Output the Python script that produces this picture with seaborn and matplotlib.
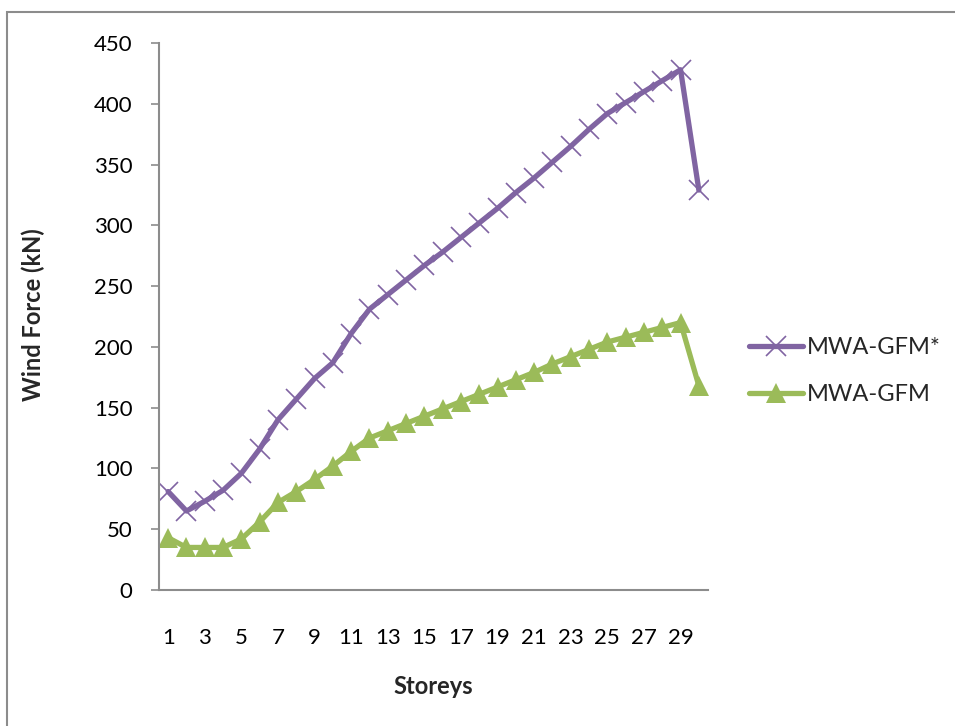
import matplotlib
matplotlib.use("Agg")
import matplotlib.pyplot as plt
import seaborn as sns
import pandas as pd
from matplotlib.patches import Rectangle

# Wind force per storey for the two gust factor methods
storeys = list(range(1, 31))
mwa_gfm_star = [81, 65, 73, 82, 96, 116, 140, 157, 174, 187,
                211, 231, 243, 255, 267, 278, 290, 302, 314, 327,
                339, 352, 365, 379, 392, 401, 410, 419, 428, 329]
mwa_gfm = [43, 35, 35, 35, 42, 56, 72, 81, 91, 102,
           114, 125, 131, 137, 143, 149, 155, 161, 167, 173,
           179, 186, 192, 198, 204, 208, 212, 216, 220, 168]
series_names = ["MWA-GFM*", "MWA-GFM"]
y_ticks = [0, 50, 100, 150, 200, 250, 300, 350, 400, 450]
x_tick_labels = list(range(1, 30, 2))

df = pd.DataFrame({
    "Storey": storeys * 2,
    "Force": mwa_gfm_star + mwa_gfm,
    "Series": [series_names[0]] * len(storeys) + [series_names[1]] * len(storeys),
})

sns.set_theme(style="white")
plt.rcParams["font.family"] = ["Lato", "DejaVu Sans"]

W, H = 955, 726
fig = plt.figure(figsize=(W / 100, H / 100), dpi=100)
ax = fig.add_axes([159 / W, 1 - 590 / H, (708 - 159) / W, (590 - 43) / H])

purple = "#8064A2"
green = "#9BBB59"
axis_grey = "#8C8C8C"

sns.lineplot(data=df[df.Series == series_names[0]], x="Storey", y="Force",
             ax=ax, color=purple, linewidth=3.8, marker="x", markersize=15,
             markeredgewidth=1.2, markeredgecolor=purple, label=series_names[0])
sns.lineplot(data=df[df.Series == series_names[1]], x="Storey", y="Force",
             ax=ax, color=green, linewidth=3.8, marker="^", markersize=14,
             markeredgewidth=0, markerfacecolor=green, label=series_names[1])

ax.set_xlim(0.5, 30.5)
ax.set_ylim(0, 450)
ax.set_yticks(y_ticks)
ax.set_xticks(x_tick_labels)
ax.set_xticklabels([str(v) for v in x_tick_labels])

for side in ("top", "right"):
    ax.spines[side].set_visible(False)
for side in ("left", "bottom"):
    ax.spines[side].set_color(axis_grey)
    ax.spines[side].set_linewidth(1.5)

ax.tick_params(axis="y", which="major", left=True, length=6, width=1.2,
               color=axis_grey, labelsize=16, pad=13, labelcolor="black")
ax.tick_params(axis="x", which="major", bottom=False, labelsize=16, pad=21,
               labelcolor="black")

ax.set_xlabel("Storeys", fontsize=17, fontweight="bold")
ax.set_ylabel("Wind Force (kN)", fontsize=17, fontweight="bold")
ax.xaxis.set_label_coords((433 - 159) / 549, (590 - 686) / 547)
ax.yaxis.set_label_coords((33 - 159) / 549, (590 - 315) / 547)
ax.xaxis.label.set_va("center")
ax.yaxis.label.set_va("center")

leg = ax.legend(loc="center left", bbox_to_anchor=(740 / W, 1 - 371 / H),
                bbox_transform=fig.transFigure, frameon=False, fontsize=17,
                handlelength=2.25, handletextpad=0.2, labelspacing=1.1,
                borderaxespad=0)

# Outer chart border
fig.patches.append(Rectangle((7 / W, -0.05), 1.05, 1 - 12 / H + 0.05,
                             transform=fig.transFigure, fill=False,
                             edgecolor="#8C8C8C", linewidth=1.5))

fig.savefig("out.png", dpi=100, facecolor="white")
